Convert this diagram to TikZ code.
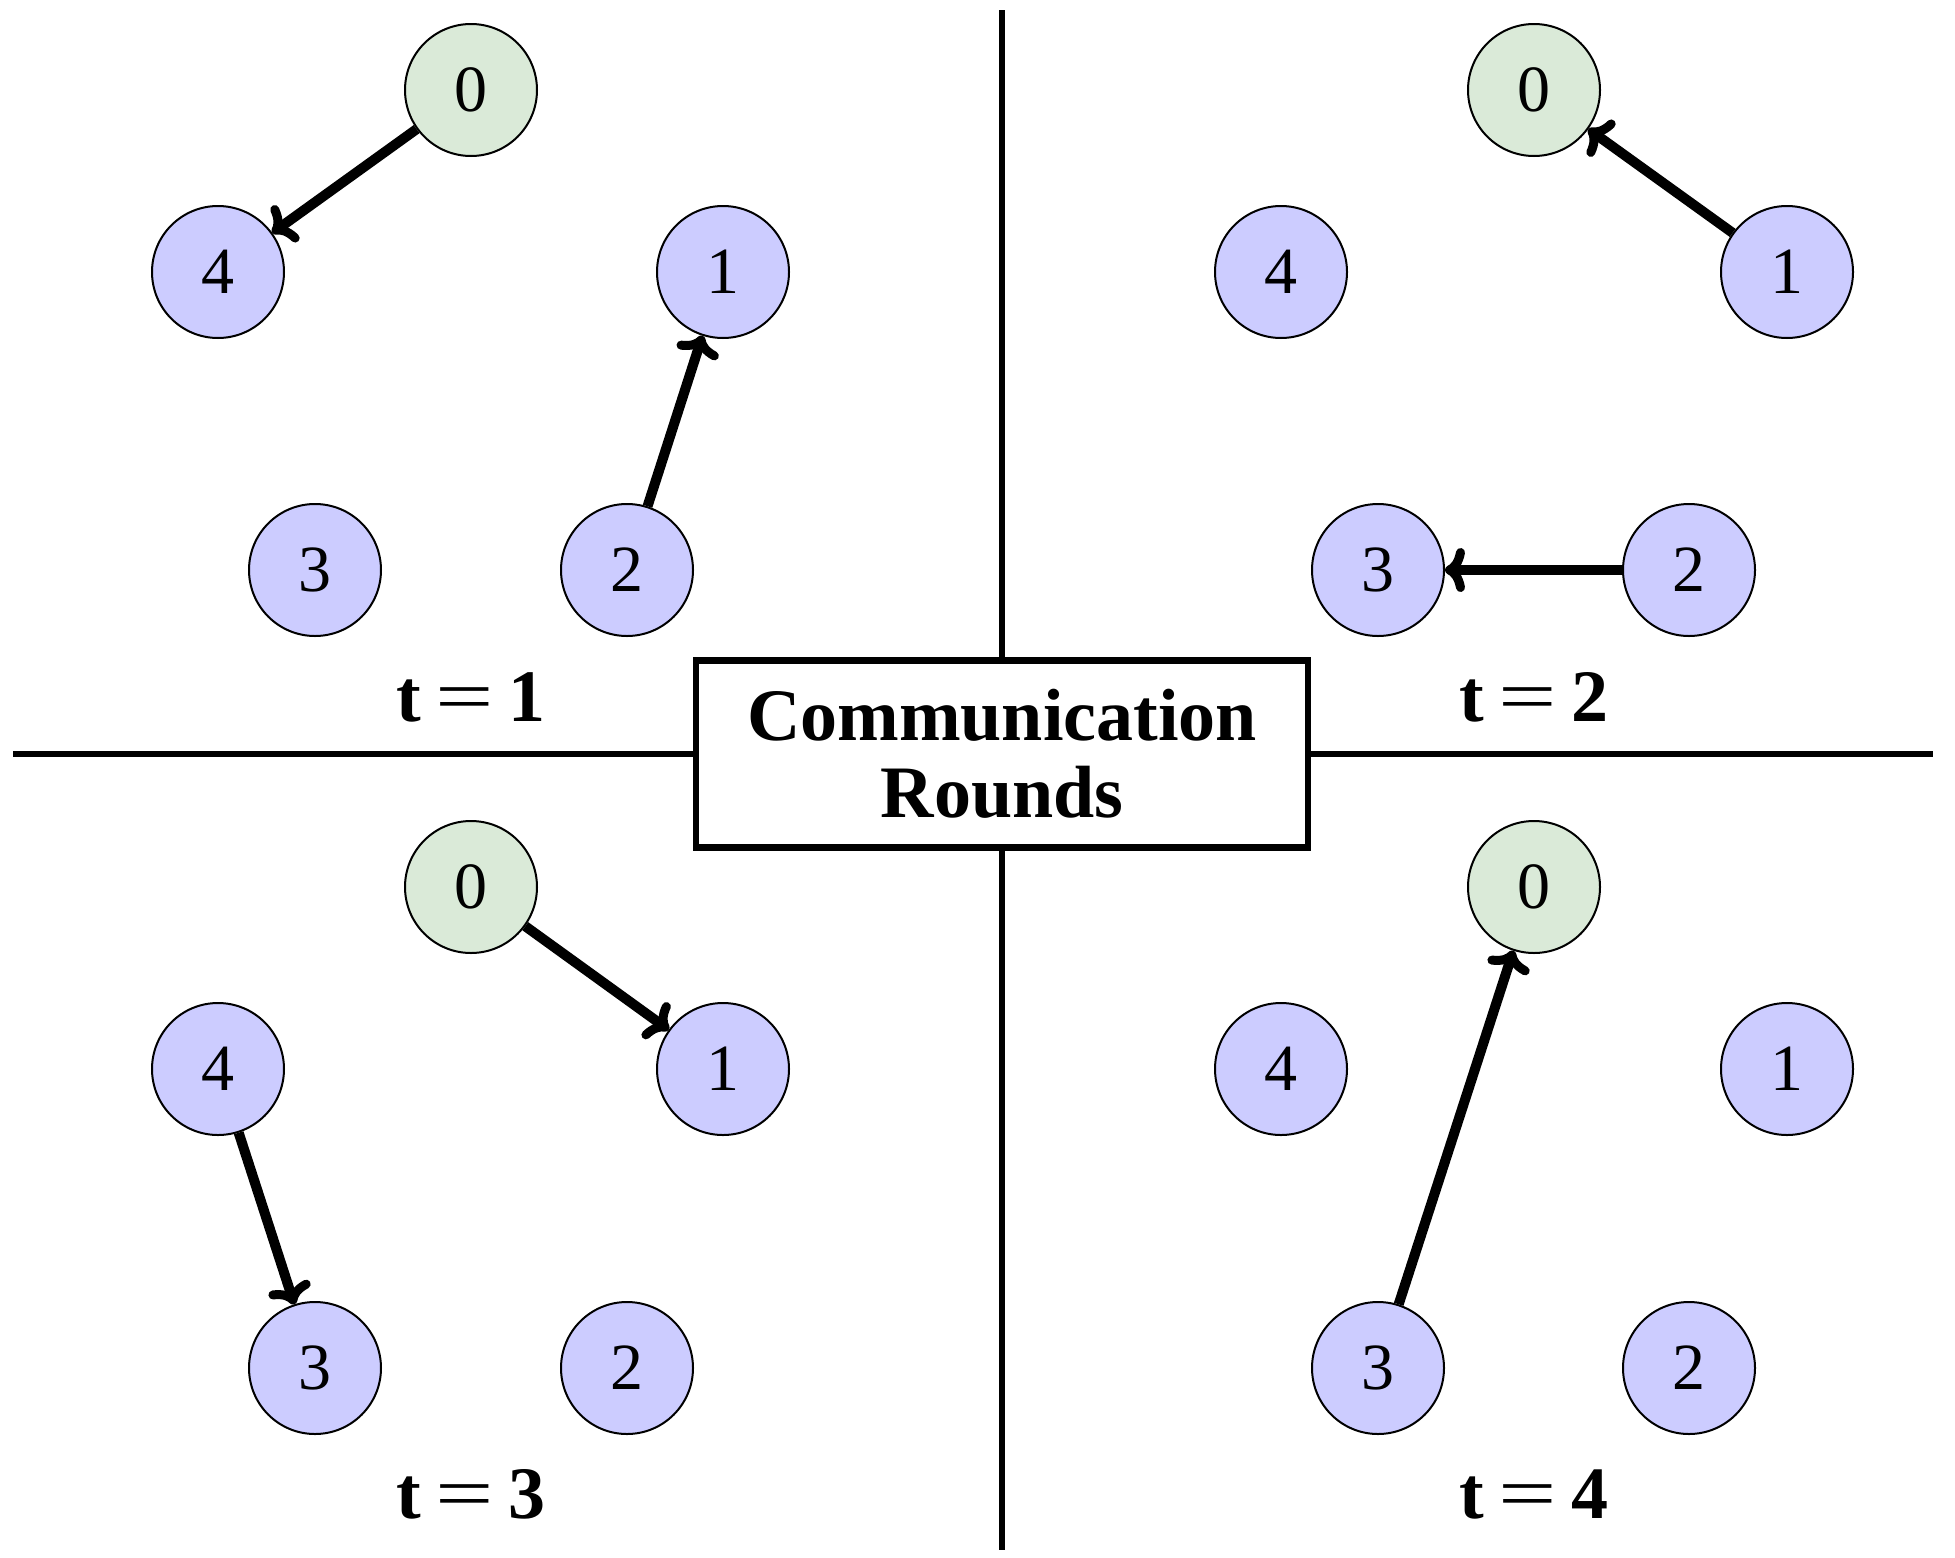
\documentclass[tikz,border=0pt]{standalone}
\usepackage{fontspec}
\usepackage{graphicx}
\setmainfont{Liberation Serif}
\usetikzlibrary{arrows.meta}
\definecolor{gfill}{RGB}{218,234,216}
\definecolor{bfill}{RGB}{204,204,255}
\newcommand{\tlab}[1]{\textbf{t}\hspace{14pt}{\mdseries\scalebox{1.4}[1]{=}}\hspace{14pt}\textbf{#1}}
\begin{document}
\begin{tikzpicture}[x=1pt,y=-1pt,
  nd/.style={circle,draw=black,line width=2pt,minimum size=132pt,inner sep=0pt,font=\fontsize{66}{70}\selectfont},
  gn/.style={nd,fill=gfill},
  bn/.style={nd,fill=bfill},
  lbl/.style={font=\fontsize{74}{78}\selectfont\bfseries},
  arr/.style={line width=10pt,-{Computer Modern Rightarrow[length=20pt,width=44pt,line width=9pt]}},
  divl/.style={line width=6pt},
]
\useasboundingbox (0,0) rectangle (1955,1558);
% central box and dividers
\node[draw,line width=6.5pt,minimum width=612pt,minimum height=187pt,inner sep=0pt,align=center,font=\fontsize{74}{77}\selectfont\bfseries] (box) at (1002,754) {Communication\\Rounds};
\coordinate (vt) at (1002,10);
\coordinate (vb) at (1002,1550);
\coordinate (hl) at (13,754);
\coordinate (hr) at (1933,754);
\draw[divl] (box.north) -- (vt);
\draw[divl] (box.south) -- (vb);
\draw[divl] (box.west) -- (hl);
\draw[divl] (box.east) -- (hr);
% Q1
\node[gn] (a0) at (471,90) {0};
\node[bn] (a4) at (218,272) {4};
\node[bn] (a1) at (723,272) {1};
\node[bn] (a3) at (315,570) {3};
\node[bn] (a2) at (627,570) {2};
\node[lbl] (ta) at (471,697) {\tlab{1}};
\draw[arr] (a0) -- (a4);
\draw[arr] (a2) -- (a1);
% Q2
\node[gn] (b0) at (1534,90) {0};
\node[bn] (b4) at (1281,272) {4};
\node[bn] (b1) at (1787,272) {1};
\node[bn] (b3) at (1378,570) {3};
\node[bn] (b2) at (1689,570) {2};
\node[lbl] (tb) at (1534,697) {\tlab{2}};
\draw[arr] (b1) -- (b0);
\draw[arr] (b2) -- (b3);
% Q3
\node[gn] (c0) at (471,887) {0};
\node[bn] (c4) at (218,1069) {4};
\node[bn] (c1) at (723,1069) {1};
\node[bn] (c3) at (315,1368) {3};
\node[bn] (c2) at (627,1368) {2};
\node[lbl] (tc) at (471,1494) {\tlab{3}};
\draw[arr] (c0) -- (c1);
\draw[arr] (c4) -- (c3);
% Q4
\node[gn] (d0) at (1534,887) {0};
\node[bn] (d4) at (1281,1069) {4};
\node[bn] (d1) at (1787,1069) {1};
\node[bn] (d3) at (1378,1368) {3};
\node[bn] (d2) at (1689,1368) {2};
\node[lbl] (td) at (1534,1494) {\tlab{4}};
\draw[arr] (d3) -- (d0);
\end{tikzpicture}
\end{document}
